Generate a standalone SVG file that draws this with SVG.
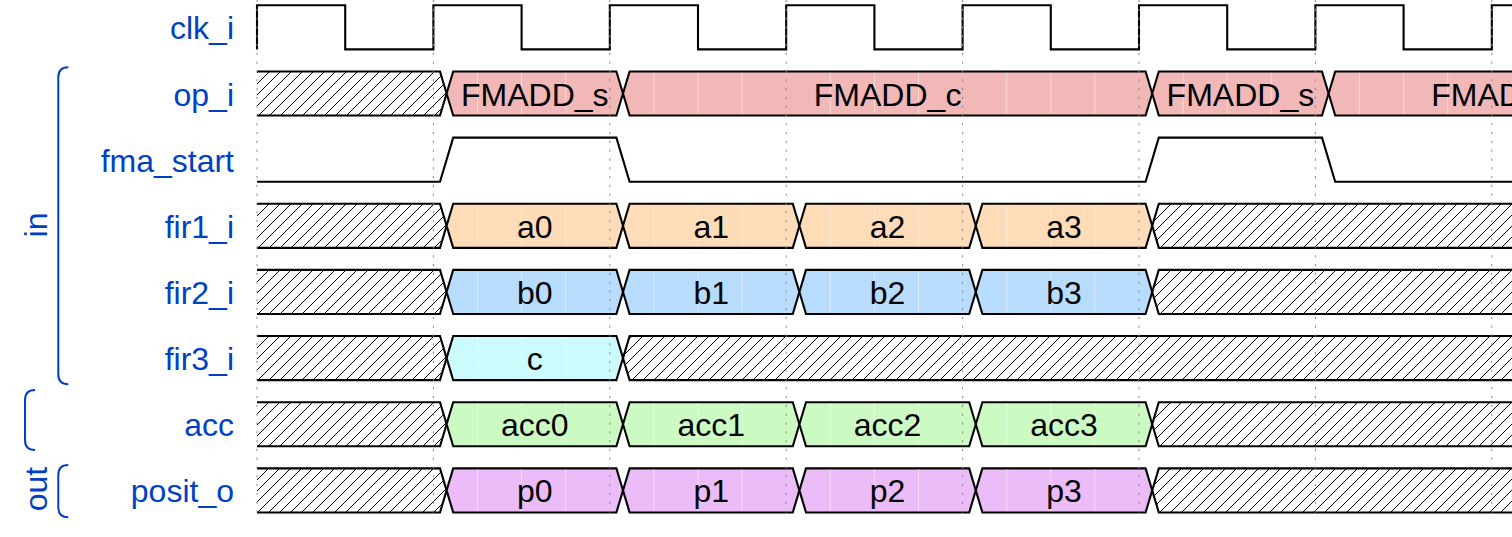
<svg xmlns="http://www.w3.org/2000/svg" width="1512" height="537" viewBox="0 0 1512 537">
<style>
.lbl{font-family:"Liberation Sans",Arial,Helvetica,sans-serif;font-size:32px;fill:#0041c4;text-anchor:end}
.grp{font-family:"Liberation Sans",Arial,Helvetica,sans-serif;font-size:32px;fill:#0041c4;text-anchor:middle}
.val{font-family:"Liberation Sans",Arial,Helvetica,sans-serif;font-size:32px;fill:#000;text-anchor:middle}
.w{stroke:#000;stroke-width:2.1;stroke-linejoin:miter;fill:none}
.x{stroke:#000;stroke-width:2.1;fill:url(#hatch)}
.d{stroke:#000;stroke-width:2.1}
.red{fill:#f2b8b8}.org{fill:#fedcb7}.blu{fill:#b8dcfd}.cya{fill:#cbfbfd}.grn{fill:#cbfbc3}.pur{fill:#ecbcf8}
.seam{stroke:#fff;stroke-width:1;opacity:0.45;fill:none}
.grid{stroke:#888;stroke-width:1;stroke-dasharray:2.2 6.6;fill:none}
.br{stroke:#0041c4;stroke-width:2;fill:none}
</style>
<defs>
<pattern id="hatch" patternUnits="userSpaceOnUse" width="11" height="11">
<path d="M0,11 L11,0 M-1,1 L1,-1 M10,12 L12,10" stroke="#000" stroke-width="1" fill="none"/>
</pattern>
</defs>
<rect width="1512" height="537" fill="#fff"/>

<g id="groups">
<path class="br" d="M68.3,67.3 Q58.3,67.3 58.3,77.3 V374.3 Q58.3,384.3 68.3,384.3"/>
<text class="grp" transform="translate(46.5,225) rotate(-90)">in</text>
<path class="br" d="M35,390 Q25,390 25,400 V440 Q25,450 35,450"/>
<path class="br" d="M68.3,465 Q58.3,465 58.3,475 V507.3 Q58.3,517.3 68.3,517.3"/>
<text class="grp" transform="translate(46.5,489) rotate(-90)">out</text>
</g>

<g id="clk_i">
<text class="lbl" x="234" y="39.4">clk_i</text>
<path class="w" d="M257,49.4 V5.3 H345.2 V49.4 H433.4 V5.3 H521.6 V49.4 H609.8 V5.3 H698 V49.4 H786.2 V5.3 H874.4 V49.4 H962.6 V5.3 H1050.8 V49.4 H1139 V5.3 H1227.2 V49.4 H1315.4 V5.3 H1403.6 V49.4 H1491.8 V5.3 H1520"/>
</g>

<g id="op_i">
<text class="lbl" x="234" y="105.5">op_i</text>
<path class="x" d="M257,71.45 H440 L446.6,93.5 L440,115.55 H257"/>
<path class="d red" d="M453.2,71.45 H616.4 L623,93.5 L616.4,115.55 H453.2 L446.6,93.5 Z"/>
<path class="d red" d="M629.6,71.45 H1145.6 L1152.2,93.5 L1145.6,115.55 H629.6 L623,93.5 Z"/>
<path class="d red" d="M1158.8,71.45 H1322 L1328.6,93.5 L1322,115.55 H1158.8 L1152.2,93.5 Z"/>
<path class="d red" d="M1520,71.45 H1335.2 L1328.6,93.5 L1335.2,115.55 H1520"/>
<path class="seam" d="M477.5,73v41M521.6,73v41M565.7,73v41M653.9,73v41M698,73v41M742.1,73v41M830.3,73v41M874.4,73v41M918.5,73v41M1006.7,73v41M1050.8,73v41M1094.9,73v41M1183.1,73v41M1227.2,73v41M1271.3,73v41M1359.5,73v41M1403.6,73v41M1447.7,73v41"/>
<text class="val" x="534.8" y="105.5">FMADD_s</text>
<text class="val" x="887.6" y="105.5">FMADD_c</text>
<text class="val" x="1240.4" y="105.5">FMADD_s</text>
<text class="val" x="1505" y="105.5">FMADD_c</text>
</g>

<g id="fma_start">
<text class="lbl" x="234" y="171.6">fma_start</text>
<path class="w" d="M257,181.7 H440 L453.2,137.6 H616.4 L629.6,181.7 H1145.6 L1158.8,137.6 H1322 L1335.2,181.7 H1520"/>
</g>

<g id="fir1_i">
<text class="lbl" x="234" y="237.8">fir1_i</text>
<path class="x" d="M257,203.75 H440 L446.6,225.8 L440,247.85 H257"/>
<path class="d org" d="M453.2,203.75 H616.4 L623,225.8 L616.4,247.85 H453.2 L446.6,225.8 Z"/>
<path class="d org" d="M629.6,203.75 H792.8 L799.4,225.8 L792.8,247.85 H629.6 L623,225.8 Z"/>
<path class="d org" d="M806,203.75 H969.2 L975.8,225.8 L969.2,247.85 H806 L799.4,225.8 Z"/>
<path class="d org" d="M982.4,203.75 H1145.6 L1152.2,225.8 L1145.6,247.85 H982.4 L975.8,225.8 Z"/>
<path class="x" d="M1520,203.75 H1158.8 L1152.2,225.8 L1158.8,247.85 H1520"/>
<path class="seam" d="M477.5,205v41M521.6,205v41M565.7,205v41M653.9,205v41M698,205v41M742.1,205v41M830.3,205v41M874.4,205v41M918.5,205v41M1006.7,205v41M1050.8,205v41M1094.9,205v41"/>
<text class="val" x="534.8" y="237.8">a0</text>
<text class="val" x="711.2" y="237.8">a1</text>
<text class="val" x="887.6" y="237.8">a2</text>
<text class="val" x="1064" y="237.8">a3</text>
</g>

<g id="fir2_i">
<text class="lbl" x="234" y="304">fir2_i</text>
<path class="x" d="M257,269.9 H440 L446.6,291.95 L440,314 H257"/>
<path class="d blu" d="M453.2,269.9 H616.4 L623,291.95 L616.4,314 H453.2 L446.6,291.95 Z"/>
<path class="d blu" d="M629.6,269.9 H792.8 L799.4,291.95 L792.8,314 H629.6 L623,291.95 Z"/>
<path class="d blu" d="M806,269.9 H969.2 L975.8,291.95 L969.2,314 H806 L799.4,291.95 Z"/>
<path class="d blu" d="M982.4,269.9 H1145.6 L1152.2,291.95 L1145.6,314 H982.4 L975.8,291.95 Z"/>
<path class="x" d="M1520,269.9 H1158.8 L1152.2,291.95 L1158.8,314 H1520"/>
<path class="seam" d="M477.5,271v41M521.6,271v41M565.7,271v41M653.9,271v41M698,271v41M742.1,271v41M830.3,271v41M874.4,271v41M918.5,271v41M1006.7,271v41M1050.8,271v41M1094.9,271v41"/>
<text class="val" x="534.8" y="304">b0</text>
<text class="val" x="711.2" y="304">b1</text>
<text class="val" x="887.6" y="304">b2</text>
<text class="val" x="1064" y="304">b3</text>
</g>

<g id="fir3_i">
<text class="lbl" x="234" y="370.1">fir3_i</text>
<path class="x" d="M257,336.05 H440 L446.6,358.1 L440,380.15 H257"/>
<path class="d cya" d="M453.2,336.05 H616.4 L623,358.1 L616.4,380.15 H453.2 L446.6,358.1 Z"/>
<path class="x" d="M1520,336.05 H629.6 L623,358.1 L629.6,380.15 H1520"/>
<path class="seam" d="M477.5,337v41M521.6,337v41M565.7,337v41"/>
<text class="val" x="534.8" y="370.1">c</text>
</g>

<g id="acc">
<text class="lbl" x="234" y="436.3">acc</text>
<path class="x" d="M257,402.2 H440 L446.6,424.25 L440,446.3 H257"/>
<path class="d grn" d="M453.2,402.2 H616.4 L623,424.25 L616.4,446.3 H453.2 L446.6,424.25 Z"/>
<path class="d grn" d="M629.6,402.2 H792.8 L799.4,424.25 L792.8,446.3 H629.6 L623,424.25 Z"/>
<path class="d grn" d="M806,402.2 H969.2 L975.8,424.25 L969.2,446.3 H806 L799.4,424.25 Z"/>
<path class="d grn" d="M982.4,402.2 H1145.6 L1152.2,424.25 L1145.6,446.3 H982.4 L975.8,424.25 Z"/>
<path class="x" d="M1520,402.2 H1158.8 L1152.2,424.25 L1158.8,446.3 H1520"/>
<path class="seam" d="M477.5,403v42M521.6,403v42M565.7,403v42M653.9,403v42M698,403v42M742.1,403v42M830.3,403v42M874.4,403v42M918.5,403v42M1006.7,403v42M1050.8,403v42M1094.9,403v42"/>
<text class="val" x="534.8" y="436.3">acc0</text>
<text class="val" x="711.2" y="436.3">acc1</text>
<text class="val" x="887.6" y="436.3">acc2</text>
<text class="val" x="1064" y="436.3">acc3</text>
</g>

<g id="posit_o">
<text class="lbl" x="234" y="502.4">posit_o</text>
<path class="x" d="M257,468.35 H440 L446.6,490.4 L440,512.45 H257"/>
<path class="d pur" d="M453.2,468.35 H616.4 L623,490.4 L616.4,512.45 H453.2 L446.6,490.4 Z"/>
<path class="d pur" d="M629.6,468.35 H792.8 L799.4,490.4 L792.8,512.45 H629.6 L623,490.4 Z"/>
<path class="d pur" d="M806,468.35 H969.2 L975.8,490.4 L969.2,512.45 H806 L799.4,490.4 Z"/>
<path class="d pur" d="M982.4,468.35 H1145.6 L1152.2,490.4 L1145.6,512.45 H982.4 L975.8,490.4 Z"/>
<path class="x" d="M1520,468.35 H1158.8 L1152.2,490.4 L1158.8,512.45 H1520"/>
<path class="seam" d="M477.5,469v42M521.6,469v42M565.7,469v42M653.9,469v42M698,469v42M742.1,469v42M830.3,469v42M874.4,469v42M918.5,469v42M1006.7,469v42M1050.8,469v42M1094.9,469v42"/>
<text class="val" x="534.8" y="502.4">p0</text>
<text class="val" x="711.2" y="502.4">p1</text>
<text class="val" x="887.6" y="502.4">p2</text>
<text class="val" x="1064" y="502.4">p3</text>
</g>

<g id="gridlines">
<path class="grid" d="M257,0V518M433.4,0V518M609.8,0V518M786.2,0V518M962.6,0V518M1139,0V518M1315.4,0V518M1491.8,0V518"/>
</g>
</svg>
